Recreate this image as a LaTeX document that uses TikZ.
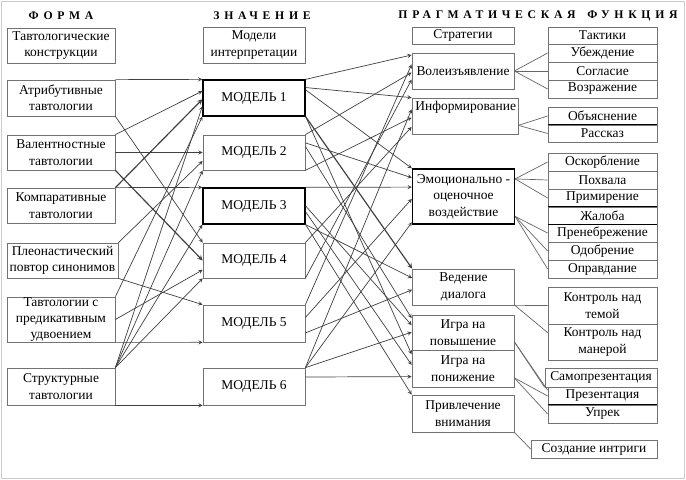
\documentclass[tikz,border=0pt]{standalone}
\usepackage{fontspec}
\setmainfont{Liberation Serif}
\usetikzlibrary{arrows}
\tikzset{
    normal/.style={draw=black!55, semithick},
    box/.style={style=normal, inner sep=0pt, align=center, font=\fontsize{11.5}{14}\selectfont},
    f/.style={style=box, minimum width=3.24cm, minimum height=1.08cm}, % form
    m/.style={style=box, minimum width=3.06cm, minimum height=1.08cm}, % model
    s/.style={style=box, minimum width=3.06cm, minimum height=1.08cm}, % strategy
    t/.style={style=box, minimum width=3.27cm, minimum height=0.54cm}, % tactic
    bold/.style={draw=black, line width=1.1pt},
    head/.style={font=\fontsize{10}{12}\selectfont\bfseries\addfontfeature{LetterSpace=40}},
    e/.style={draw=black!75, semithick, ->, >=stealth}, % link with arrow
    l/.style={draw=black!60, semithick} % plain link
}

\begin{document}
\begin{tikzpicture}[x=0.03cm, y=-0.03cm]
    \useasboundingbox (0,0) rectangle (686,480);
    \draw[black!20] (1.5,1.5) rectangle (684.5,478.5);

    % headers
    \node[head] (h1) at (61,16) {ФОРМА};
    \node[head] (h2) at (262,16) {ЗНАЧЕНИЕ};
    \node[head] (h3) at (538,16) {ПРАГМАТИЧЕСКАЯ\hspace{1em}ФУНКЦИЯ};

    % forms
    \node[f, minimum height=1.05cm] (f0) at (61,45.5) {Тавтологические\\конструкции};
    \node[f] (f1) at (61,98) {Атрибутивные\\тавтологии};
    \node[f, minimum height=1.05cm] (f2) at (61,152.5) {Валентностные\\тавтологии};
    \node[f, minimum height=1.05cm] (f3) at (61,205.5) {Компаративные\\тавтологии};
    \node[f, minimum width=3.33cm, minimum height=1.05cm] (f4) at (62.5,260.5) {Плеонастический\\повтор синонимов};
    \node[f, minimum height=1.35cm] (f5) at (61,319.5) {Тавтологии с\\предикативным\\удвоением};
    \node[f, minimum height=1.11cm] (f6) at (61,386.5) {Структурные\\тавтологии};

    % models
    \node[m] (m0) at (254,45) {Модели\\интерпретации};
    \node[m, bold] (m1) at (254,98) {МОДЕЛЬ 1};
    \node[m, minimum height=1.05cm] (m2) at (254,152.5) {МОДЕЛЬ 2};
    \node[m, bold] (m3) at (254,206) {МОДЕЛЬ 3};
    \node[m, minimum height=1.05cm] (m4) at (254,260.5) {МОДЕЛЬ 4};
    \node[m, minimum height=1.11cm] (m5) at (254,323.5) {МОДЕЛЬ 5};
    \node[m, minimum height=1.11cm] (m6) at (254,386.5) {МОДЕЛЬ 6};

    % strategies
    \node[s, minimum height=0.51cm] (s0) at (463,35.5) {Стратегии};
    \node[s] (s1) at (463,71) {Волеизъявление};
    \node[s, minimum width=3.18cm] (s2) at (465,116) {};
    \node[anchor=north west, inner sep=3pt, font=\fontsize{11.5}{14}\selectfont] (s2t) at (s2.north west) {Информирование};
    \node[s, bold, minimum height=1.65cm] (s3) at (463.5,196.5) {Эмоционально -\\оценочное\\воздействие};
    \node[s] (s4) at (463.5,287) {Ведение\\диалога};
    \node[s, minimum height=1.05cm] (s5) at (463,332.5) {Игра на\\повышение};
    \node[s, minimum height=1.11cm] (s6) at (463,368.5) {Игра на\\понижение};
    \node[s, minimum height=1.11cm] (s7) at (463,413.5) {Привлечение\\внимания};

    % tactics
    \node[t, minimum height=0.51cm] (t0) at (602.5,35.5) {Тактики};
    \node[t] (t1) at (602.5,53) {Убеждение};
    \node[t] (t2) at (602.5,71) {Согласие};
    \node[t] (t3) at (602.5,89) {Возражение};
    \node[t] (t4) at (602.5,116) {Объяснение};
    \node[t, minimum height=0.51cm] (t5) at (602.5,133.5) {Рассказ};
    \node[t] (t6) at (602.5,162) {Оскорбление};
    \node[t] (t7) at (602.5,180) {Похвала};
    \node[t] (t8) at (602.5,198) {Примирение};
    \node[t, minimum height=0.51cm] (t9) at (602.5,215.5) {Жалоба};
    \node[t] (t10) at (602.5,233) {Пренебрежение};
    \node[t] (t11) at (602.5,251) {Одобрение};
    \node[t] (t12) at (602.5,269) {Оправдание};
    \node[t, minimum height=1.11cm] (t13) at (602.5,305.5) {Контроль над\\темой};
    \node[t, minimum height=1.08cm] (t14) at (602.5,342) {Контроль над\\манерой};
    \node[t, minimum width=3.36cm, minimum height=0.57cm] (t15) at (601,377.5) {Самопрезентация};
    \node[t] (t16) at (602.5,396) {Презентация};
    \node[t] (t17) at (602.5,414) {Упрек};
    \node[t, minimum width=3.78cm] (t18) at (594,449) {Создание интриги};

    \draw[very thick] (t5.north west) -- (t5.north east);
    \draw[very thick] (t9.north west) -- (t9.north east);
    \draw[very thick] (t9.south west) -- (t9.south east);
    \draw[very thick] (t17.north west) -- (t17.north east);

    % forms -> models
    \draw[e] (f1.north east) -- (m1.north west);
    \draw[e] (f2.north east) -- ([yshift=-10pt]m1.north west);
    \draw[e, line width=1pt] (f3.north east) -- ([yshift=-17pt]m1.north west);
    \draw[e] (f6.north east) -- ([yshift=-23pt]m1.north west);
    \draw[e] (f5.north east) -- (m1.south west);
    \draw[e] (f2.east) -- (m2.west);
    \draw[e] (f4.north east) -- ([yshift=8pt]m2.south west);
    \draw[e] (f6.north east) -- (m2.south west);
    \draw[e] (f3.north east) -- (m3.north west);
    \draw[e] (f6.north east) -- (m3.south west);
    \draw[e] (f1.south east) -- (m4.north west);
    \draw[e, line width=1pt] (f2.south east) -- (m4.west);
    \draw[e] (f5.east) -- ([yshift=-8pt]m4.west);
    \draw[e] (f6.north east) -- (m4.south west);
    \draw[e] (f4.south east) -- (m5.north west);
    \draw[e] (f5.south east) -- (m5.south west);
    \draw[e] (f6.south east) -- (m6.south west);

    % models -> strategies
    \draw[e] (m1.north east) -- ([yshift=-2pt]s1.north west);
    \draw[e] (m5.north east) -- ([yshift=-10pt]s1.north west);
    \draw[e] (m2.north east) -- ([yshift=-17pt]s1.north west);
    \draw[e] (m4.south east) -- ([yshift=-23pt]s1.north west);
    \draw[e] ([yshift=-7pt]m1.north east) -- (s2.north west);
    \draw[e] (m6.north east) -- ([yshift=-10pt]s2.north west);
    \draw[e] (m2.south east) -- ([yshift=-17pt]s2.north west);
    \draw[e] (m4.north east) -- ([yshift=-25pt]s2.north west);
    \draw[e] ([yshift=-9pt]m1.north east) -- (s3.north west);
    \draw[e] ([yshift=-7pt]m2.north east) -- ([yshift=-8pt]s3.north west);
    \draw[e] (m3.north east) -- ([yshift=-16pt]s3.north west);
    \draw[e] ([yshift=-11pt]m5.north east) -- ([yshift=-26pt]s3.north west);
    \draw[e] (m6.north east) -- ([yshift=2pt]s3.south west);
    \draw[e, line width=1pt] (m1.south east) -- (s4.north west);
    \draw[e] (m3.south east) -- ([yshift=-8pt]s4.north west);
    \draw[e] ([yshift=8pt]m5.south east) -- ([yshift=-18pt]s4.north west);
    \draw[e] ([yshift=-10pt]m2.north east) -- ([yshift=-3pt]s5.north west);
    \draw[e] (m3.east) -- ([yshift=-9pt]s5.north west);
    \draw[e] (m6.north east) -- ([yshift=-15pt]s5.north west);
    \draw[e] (m1.south east) -- ([yshift=-4pt]s6.north west);
    \draw[e] ([yshift=-5pt]m3.east) -- ([yshift=-13pt]s6.north west);
    \draw[e] ([yshift=-8pt]m6.north east) -- ([yshift=-23pt]s6.north west);
    \draw[e] (m3.south east) -- (s7.north west);

    % strategies -> tactics
    \draw[l] (s1.east) -- (t1.west);
    \draw[l] (s1.east) -- (t2.west);
    \draw[l] (s1.east) -- (t3.west);
    \draw[l] ([yshift=-8pt]s2.east) -- (t4.west);
    \draw[l] ([yshift=-8pt]s2.east) -- (t5.west);
    \draw[l] ([yshift=15pt]s3.east) -- (t6.west);
    \draw[l] ([yshift=15pt]s3.east) -- (t7.west);
    \draw[l] ([yshift=15pt]s3.east) -- (t8.west);
    \draw[l] ([yshift=-17pt]s3.east) -- (t10.west);
    \draw[l] ([yshift=-17pt]s3.east) -- (t11.west);
    \draw[l] ([yshift=-17pt]s3.east) -- (t12.west);
    \draw[l] (s4.south east) -- (t13.west);
    \draw[l] (s4.south east) -- ([yshift=8pt]t14.west);
    \draw[l] ([yshift=-8pt]s5.east) -- (t15.south west);
    \draw[l] ([yshift=-8pt]s5.east) -- ([yshift=-3pt]t16.north west);
    \draw[l] ([yshift=-8pt]s6.east) -- (t16.west);
    \draw[l] ([yshift=-8pt]s6.east) -- (t17.west);
    \draw[l] (s7.south east) -- (t18.west);
\end{tikzpicture}
\end{document}
